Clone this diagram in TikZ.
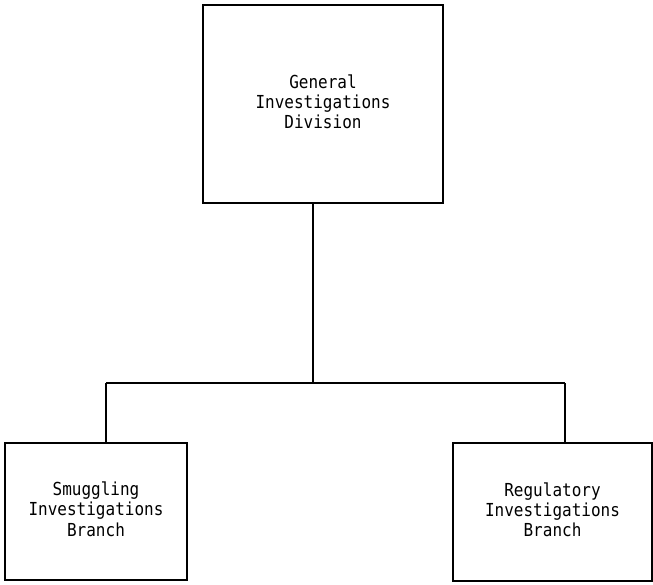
\documentclass[tikz,border=0pt]{standalone}
\usepackage{fontspec}
\setmonofont{DejaVu Sans Mono}
\begin{document}
\begin{tikzpicture}[x=1pt,y=-1pt,
  orgbox/.style={draw, line width=2.6pt, inner sep=0pt, anchor=center,
    font=\fontsize{16}{20}\selectfont\ttfamily, align=center},
  link/.style={line width=2.6pt}]
\useasboundingbox (0,0) rectangle (653,585);
\node[orgbox, minimum width=240pt, minimum height=198pt] (top) at (323,104)
  {\raisebox{9pt}{\scalebox{1}[1.12]{\begin{tabular}{@{}c@{}}General\\[-2pt]Investigations\\[-2pt]Division\end{tabular}}}};
\node[orgbox, minimum width=182pt, minimum height=137pt] (left) at (96,511.5)
  {\scalebox{1}[1.12]{\begin{tabular}{@{}c@{}}Smuggling\\[-2pt]Investigations\\[-2pt]Branch\end{tabular}}};
\node[orgbox, minimum width=199pt, minimum height=138pt] (right) at (552.5,512)
  {\scalebox{1}[1.12]{\begin{tabular}{@{}c@{}}Regulatory\\[-2pt]Investigations\\[-2pt]Branch\end{tabular}}};
\coordinate (mid) at (313,383);
\coordinate (lj) at (106,383);
\coordinate (rj) at (565,383);
\draw[link] (top.south -| mid) -- (mid);
\draw[link] (lj) -- (rj);
\draw[link] (lj) -- (lj |- left.north);
\draw[link] (rj) -- (rj |- right.north);
\end{tikzpicture}
\end{document}
